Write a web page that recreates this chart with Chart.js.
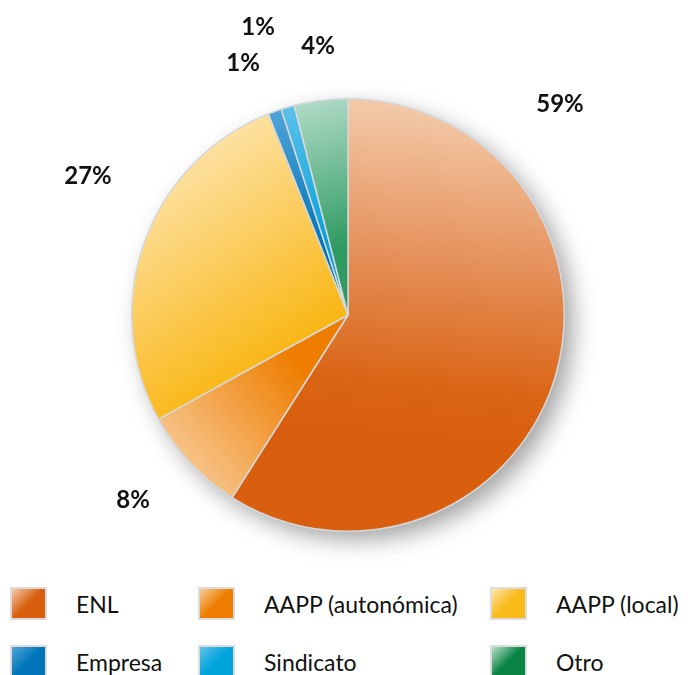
<!DOCTYPE html>
<html>
<head>
<meta charset="utf-8">
<script src="https://cdn.jsdelivr.net/npm/chart.js@4.4.1/dist/chart.umd.min.js"></script>
<style>
  body { margin: 0; background: #fff; width: 692px; height: 675px; overflow: hidden; position: relative; font-family: Lato, "Noto Sans", sans-serif; }
  #wrap { position: absolute; left: 0; top: 0; width: 692px; height: 570px; }
  #legend .item { position: absolute; display: flex; align-items: center; font-size: 23px; color: #111; white-space: nowrap; }
  #legend .sw { width: 37px; height: 33px; box-sizing: border-box; border: 2px solid #dcdcdc; margin-right: 29px; }
</style>
</head>
<body>
<div id="wrap"><canvas id="myChart" width="692" height="570"></canvas></div>
<div id="legend"></div>
<script>
const categories = ['ENL', 'AAPP (autonómica)', 'AAPP (local)', 'Empresa', 'Sindicato', 'Otro'];
const shares = [59, 8, 27, 1, 1, 4];

// light / dark end of each slice's gradient
const lightColors = ['#f3caa9', '#f8cd9a', '#fde3a8', '#55a6d9', '#62c3ea', '#b8dfcc'];
const darkColors  = ['#d95f0e', '#ee7d00', '#f9b50f', '#0073b7', '#00a0db', '#2f9b62'];
const legendColors = ['#d95f0e', '#ee7d00', '#f9bb1a', '#0075b9', '#00a4dc', '#0a8443'];

function sliceGradient(context) {
    const chart = context.chart;
    const area = chart.chartArea;
    if (!area) return darkColors[context.dataIndex];
    const ctx = chart.ctx;
    const cx = (area.left + area.right) / 2;
    const cy = (area.top + area.bottom) / 2;
    const r = Math.min(area.width, area.height) / 2;
    const i = context.dataIndex;
    let g;
    if (i === 0) {
        g = ctx.createLinearGradient(cx, cy - r, cx - 0.15 * r, cy + 0.5 * r);
        g.addColorStop(0, lightColors[0]);
        g.addColorStop(0.5, '#e48c54');
        g.addColorStop(0.85, '#da6515');
        g.addColorStop(1, darkColors[0]);
    } else if (i === 1) {
        g = ctx.createLinearGradient(cx - 0.85 * r, cy + 0.7 * r, cx - 0.25 * r, cy + 0.2 * r);
        g.addColorStop(0, lightColors[1]);
        g.addColorStop(1, darkColors[1]);
    } else if (i === 2) {
        g = ctx.createLinearGradient(cx - 0.7 * r, cy - 0.8 * r, cx - 0.1 * r, cy + 0.1 * r);
        g.addColorStop(0, lightColors[2]);
        g.addColorStop(1, darkColors[2]);
    } else {
        g = ctx.createLinearGradient(cx - 0.3 * r, cy - r, cx - 0.1 * r, cy - 0.3 * r);
        g.addColorStop(0, lightColors[i]);
        g.addColorStop(1, darkColors[i]);
    }
    return g;
}

// soft drop shadow behind the pie
const pieShadow = {
    id: 'pieShadow',
    beforeDatasetsDraw(chart) {
        const arc = chart.getDatasetMeta(0).data[0];
        if (!arc) return;
        const ctx = chart.ctx;
        ctx.save();
        ctx.shadowColor = 'rgba(0,0,0,0.38)';
        ctx.shadowBlur = 24;
        ctx.shadowOffsetX = 9;
        ctx.shadowOffsetY = 9;
        ctx.fillStyle = '#fff';
        ctx.beginPath();
        ctx.arc(arc.x, arc.y, arc.outerRadius - 1, 0, Math.PI * 2);
        ctx.fill();
        ctx.restore();
    }
};

// percentage labels placed around the pie
const pctLabels = {
    id: 'pctLabels',
    afterDatasetsDraw(chart, args, opts) {
        const meta = chart.getDatasetMeta(0);
        const ctx = chart.ctx;
        ctx.save();
        ctx.font = 'bold 24px Lato, "Noto Sans", sans-serif';
        ctx.fillStyle = '#111';
        ctx.textAlign = 'center';
        ctx.textBaseline = 'middle';
        meta.data.forEach((arc, i) => {
            const off = opts.offsets[i];
            const v = chart.data.datasets[0].data[i];
            ctx.fillText(v + '%', arc.x + off[0], arc.y + off[1]);
        });
        ctx.restore();
    }
};

const ctx = document.getElementById('myChart').getContext('2d');
const myChart = new Chart(ctx, {
    type: 'pie',
    data: {
        labels: categories,
        datasets: [{
            data: shares,
            backgroundColor: sliceGradient,
            borderColor: '#d4d8db',
            borderWidth: 1.5
        }]
    },
    options: {
        responsive: false,
        animation: false,
        layout: { padding: { left: 4, right: 0, top: 98, bottom: 38 } },
        plugins: {
            legend: { display: false },
            tooltip: { enabled: false },
            pctLabels: {
                offsets: [[212, -211], [-215, 185], [-260, -139], [-105, -252], [-90, -288], [-30, -269]]
            }
        }
    },
    plugins: [pieShadow, pctLabels]
});

// html legend in a 3-column grid, built from the chart's own legend items
const legendEl = document.getElementById('legend');
const colX = [10, 198, 490];
const rowY = [587, 645];
Chart.overrides.pie.plugins.legend.labels.generateLabels(myChart).forEach((item, i) => {
    const div = document.createElement('div');
    div.className = 'item';
    div.style.left = colX[i % 3] + 'px';
    div.style.top = rowY[Math.floor(i / 3)] + 'px';
    const sw = document.createElement('span');
    sw.className = 'sw';
    sw.style.background = 'linear-gradient(135deg, ' + lightColors[i] + ' 0%, ' + legendColors[i] + ' 50%)';
    div.appendChild(sw);
    div.appendChild(document.createTextNode(item.text));
    legendEl.appendChild(div);
});
</script>
</body>
</html>
